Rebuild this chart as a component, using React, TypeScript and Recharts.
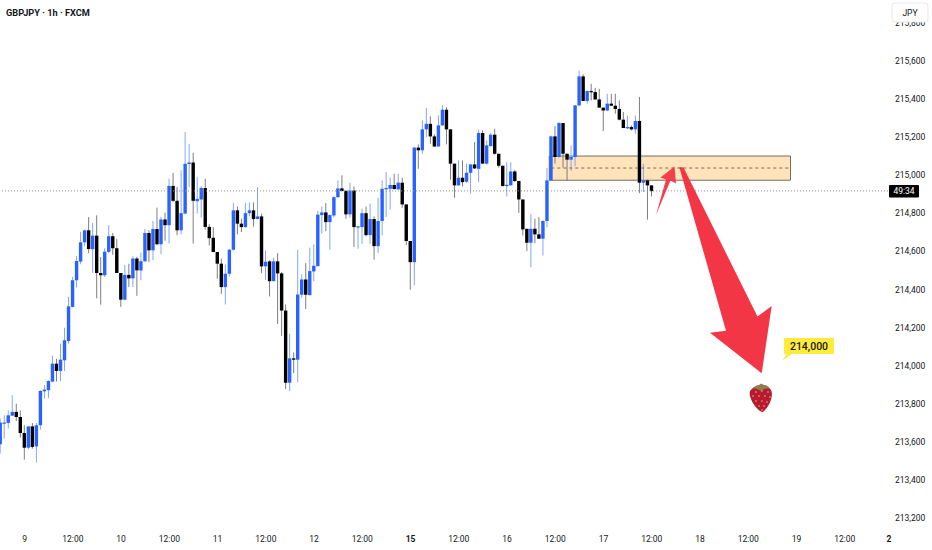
import { Bar, ComposedChart, ReferenceArea, ReferenceLine, XAxis, YAxis } from "recharts";

const opens = [
  213588, 213700, 213700, 213738, 213758, 213731, 213647, 213570, 213682, 213577,
  213688, 213866, 213872, 213917, 214011, 213973, 214029, 214130, 214309, 214449,
  214547, 214648, 214711, 214612, 214683, 214487, 214475, 214598, 214680, 214617,
  214487, 214347, 214477, 214459, 214563, 214500, 214549, 214697, 214606, 214718,
  214638, 214768, 214738, 214944, 214866, 214711, 214799, 215059, 215067, 214864,
  214873, 214933, 214729, 214672, 214597, 214536, 214413, 214483, 214609, 214816,
  214746, 214728, 214801, 214816, 214770, 214784, 214522, 214548, 214444, 214548,
  214485, 214290, 213911, 214039, 214032, 214373, 214453, 214371, 214495, 214523,
  214791, 214805, 214754, 214789, 214885, 214931, 214917, 214795, 214920, 214728,
  214728, 214801, 214686, 214770, 214628, 214760, 214928, 214929, 214949, 214926,
  214961, 214847, 214655, 214544, 215145, 215131, 215241, 215270, 215204, 215151,
  215262, 215344, 215241, 215061, 214947, 214987, 214966, 215013, 215057, 215034,
  215222, 215061, 215153, 215213, 215113, 215050, 214943, 214947, 215020, 214970,
  214873, 214719, 214646, 214719, 214690, 214667, 214760, 214973, 215204, 215096,
  215274, 215113, 215082, 215096, 215367, 215519, 215390, 215442, 215437, 215398,
  215355, 215340, 215376, 215365, 215348, 215292, 215246, 215253, 215241, 215285,
  214961, 214973, 214947,
];
const highs = [
  213723, 213740, 213766, 213845, 213801, 213766, 213688, 213682, 213700, 213700,
  213872, 213898, 213924, 214053, 214036, 214116, 214200, 214361, 214466, 214575,
  214703, 214715, 214781, 214750, 214790, 214571, 214617, 214738, 214697, 214666,
  214487, 214529, 214536, 214575, 214572, 214594, 214718, 214711, 214760, 214830,
  214782, 214804, 214982, 215012, 214939, 215026, 215227, 215165, 215118, 214990,
  214943, 214982, 214743, 214728, 214597, 214562, 214532, 214614, 214856, 214836,
  214772, 214856, 214857, 214857, 214938, 214798, 214606, 214553, 214567, 214591,
  214492, 214322, 214168, 214070, 214609, 214480, 214539, 214620, 214637, 214812,
  214836, 214854, 214795, 214889, 214973, 215000, 214924, 214962, 214941, 214732,
  214824, 214836, 214851, 214784, 214882, 214973, 215017, 214987, 215008, 215008,
  214987, 214847, 214655, 215148, 215162, 215288, 215354, 215309, 215215, 215314,
  215367, 215358, 215241, 215061, 215078, 215078, 215061, 215057, 215174, 215239,
  215236, 215183, 215222, 215244, 215113, 215050, 215069, 215069, 215029, 214970,
  214873, 214719, 214795, 214772, 214780, 214763, 215039, 215209, 215258, 215279,
  215274, 215113, 215157, 215367, 215550, 215530, 215445, 215480, 215459, 215454,
  215355, 215428, 215428, 215428, 215393, 215332, 215314, 215262, 215314, 215411,
  215061, 214977, 214947,
];
const lows = [
  213539, 213618, 213670, 213738, 213710, 213623, 213507, 213563, 213565, 213493,
  213665, 213828, 213830, 213914, 213917, 213919, 213973, 214116, 214306, 214410,
  214533, 214627, 214592, 214487, 214354, 214321, 214466, 214592, 214582, 214487,
  214309, 214344, 214414, 214414, 214367, 214449, 214544, 214545, 214554, 214633,
  214586, 214656, 214641, 214860, 214685, 214690, 214795, 214939, 214641, 214799,
  214778, 214715, 214631, 214597, 214457, 214378, 214322, 214469, 214605, 214690,
  214702, 214725, 214784, 214731, 214770, 214486, 214451, 214364, 214444, 214220,
  214157, 213878, 213867, 213962, 213914, 214357, 214298, 214369, 214444, 214523,
  214693, 214707, 214609, 214780, 214882, 214917, 214772, 214777, 214623, 214614,
  214640, 214679, 214640, 214557, 214592, 214684, 214781, 214819, 214924, 214924,
  214830, 214634, 214399, 214422, 215034, 215113, 215200, 215165, 215148, 215151,
  215258, 215162, 214977, 214882, 214947, 214941, 214959, 214903, 215033, 214964,
  215061, 215057, 215151, 215108, 215040, 214943, 214889, 214947, 214964, 214802,
  214684, 214602, 214518, 214644, 214667, 214579, 214728, 214970, 215061, 215092,
  215040, 214973, 215022, 215047, 215363, 215390, 215376, 215393, 215397, 215355,
  215232, 215337, 215365, 215323, 215288, 215248, 215244, 215235, 215218, 214906,
  214912, 214767, 214889,
];
const closes = [
  213702, 213702, 213740, 213758, 213731, 213647, 213570, 213682, 213574, 213688,
  213868, 213875, 213920, 214011, 213973, 214032, 214134, 214312, 214449, 214550,
  214648, 214711, 214613, 214683, 214487, 214475, 214599, 214680, 214617, 214487,
  214347, 214477, 214459, 214563, 214501, 214549, 214697, 214606, 214718, 214638,
  214768, 214738, 214944, 214866, 214711, 214801, 215060, 215067, 214866, 214876,
  214933, 214729, 214670, 214597, 214536, 214413, 214483, 214609, 214816, 214746,
  214728, 214801, 214816, 214770, 214784, 214522, 214546, 214444, 214548, 214485,
  214290, 213911, 214039, 214032, 214374, 214453, 214373, 214497, 214525, 214793,
  214805, 214754, 214791, 214885, 214931, 214917, 214795, 214920, 214728, 214732,
  214801, 214686, 214770, 214628, 214760, 214929, 214933, 214949, 214928, 214961,
  214847, 214655, 214544, 215145, 215131, 215241, 215270, 215204, 215151, 215262,
  215344, 215241, 215061, 214947, 214987, 214964, 215013, 215057, 215036, 215222,
  215061, 215157, 215213, 215113, 215050, 214943, 214950, 215020, 214970, 214873,
  214716, 214646, 214719, 214690, 214667, 214760, 214973, 215204, 215096, 215274,
  215113, 215082, 215096, 215367, 215519, 215390, 215442, 215437, 215398, 215355,
  215340, 215376, 215365, 215348, 215292, 215248, 215253, 215241, 215285, 214961,
  214973, 214947, 214917,
];

const SLOT_COUNT = 222;
const xTickSlots = [6, 30, 54, 78, 102, 126, 150, 174, 198];
const xNoonSlots = [18, 42, 66, 90, 114, 138, 162, 186, 210];
const xDayLabels = ["9", "10", "11", "12", "15", "16", "17", "18", "19"];
const lastSlot = 221;
const lastSlotLabel = "2";
const yTicks = [
  213200, 213400, 213600, 213800, 214000, 214200, 214400, 214600, 214800, 215000, 215200, 215400, 215600, 215800,
];
const lastPrice = 214918;
const zoneTop = 215101;
const zoneBottom = 214974;
const zoneMid = 215038;
const zoneStart = 137;
const zoneEnd = 196;

const FONT = 'Roboto, sans-serif';
const seeds = [
  [756, 392], [762, 391], [768, 392], [753, 396], [759, 396], [765, 396], [770, 397],
  [756, 401], [762, 401], [767, 402], [759, 406], [764, 406], [762, 410],
];

const rows = Array.from({ length: SLOT_COUNT }, (_, slot) =>
  slot < opens.length
    ? {
        slot,
        open: opens[slot],
        high: highs[slot],
        low: lows[slot],
        close: closes[slot],
        range: [lows[slot], highs[slot]],
      }
    : { slot },
);

const labelOfSlot = (slot: number) => {
  if (slot === lastSlot) return lastSlotLabel;
  const day = xTickSlots.indexOf(slot);
  return day >= 0 ? xDayLabels[day] : "12:00";
};

// turns the high-low range from the Bar into wick + body
function Candle(props: any) {
  const { x, y, width, height, payload } = props;
  if (payload.open === undefined) return null;
  const top = Math.min(y, y + height);
  const span = Math.abs(height);
  const toY = (v: number) => top + ((payload.high - v) / (payload.high - payload.low)) * span;
  const up = payload.close >= payload.open;
  const cx = x + width / 2;
  const bodyTop = toY(Math.max(payload.open, payload.close));
  const bodyH = Math.max(toY(Math.min(payload.open, payload.close)) - bodyTop, 1.2);
  return (
    <g>
      <line x1={cx} x2={cx} y1={top} y2={top + span} stroke={up ? "#82a6ff" : "#7d7d7d"} strokeWidth={1} />
      <rect x={x} y={bodyTop} width={width} height={bodyH} fill={up ? "#2962ff" : "#000000"} />
    </g>
  );
}

function XTick({ x, y, payload }: any) {
  const text = labelOfSlot(payload.value);
  const strong = text === "15" || text === "2";
  return (
    <text x={x} y={y} textAnchor="middle" dominantBaseline="central" fontFamily={FONT} fontSize={8.5} fontWeight={strong ? 700 : 400} fill="#131722">
      {text}
    </text>
  );
}

export default function App() {
  return (
    <div style={{ position: "absolute", left: 0, top: 0, width: 932, height: 550, background: "#fff", overflow: "hidden" }}>
      <ComposedChart
        width={932}
        height={550}
        data={rows}
        barCategoryGap={0}
        margin={{ top: 0, right: 0, bottom: 0, left: -1.5 }}
      >
        <XAxis
          dataKey="slot"
          type="category"
          ticks={[...xTickSlots, ...xNoonSlots, lastSlot]}
          interval={0}
          height={24}
          axisLine={false}
          tickLine={false}
          tickMargin={7}
          tick={<XTick />}
        />
        <YAxis
          orientation="right"
          width={41}
          domain={[213159, 215920]}
          ticks={yTicks}
          interval={0}
          axisLine={false}
          tickLine={false}
          tickSize={0}
          tickMargin={4}
          tickFormatter={(v: number) => v.toLocaleString("en-US")}
          tick={{ fontFamily: FONT, fontSize: 8.5, fill: "#131722" }}
        />
        <Bar dataKey="range" barSize={3.4} shape={<Candle />} isAnimationActive={false} />
        <ReferenceLine y={lastPrice} stroke="#8c8f98" strokeDasharray="1 2" />
        <ReferenceArea
          x1={zoneStart}
          x2={zoneEnd}
          y1={zoneBottom}
          y2={zoneTop}
          fill="#ffb74d"
          fillOpacity={0.38}
          stroke="#7a6d58"
          strokeWidth={1}
        />
        <ReferenceLine
          segment={[
            { x: zoneStart, y: zoneMid },
            { x: zoneEnd, y: zoneMid },
          ]}
          stroke="#7a6d58"
          strokeDasharray="3 3"
        />
      </ComposedChart>

      {/* drawings and labels that sit on top of the chart */}
      <svg width={932} height={550} style={{ position: "absolute", left: 0, top: 0, pointerEvents: "none" }}>
        <text x={6} y={15.5} fontFamily={FONT} fontSize={9.2} fontWeight={700} fill="#131722">
          GBPJPY · 1h · FXCM
        </text>

        <rect x={892} y={3} width={36} height={19} rx={3} fill="#fff" stroke="#e6e8ee" />
        <text x={910} y={15.5} textAnchor="middle" fontFamily={FONT} fontSize={8.5} fill="#131722">
          JPY
        </text>

        <rect x={889} y={185} width={30} height={12.5} rx={1} fill="#000" />
        <text x={904} y={194.3} textAnchor="middle" fontFamily={FONT} fontSize={8.5} fill="#fff">
          49:34
        </text>

        <polygon
          points="656,215 666,179.5 660.5,177.5 674.5,166.5 676,183.5 670.5,180.5"
          fill="#f23645"
          fillOpacity={0.95}
        />
        <polygon
          points="679.3,167 683.5,167.5 757.5,316.5 771.7,306 761.7,373.3 710,332.7 726,330.7"
          fill="#f23645"
        />

        <polygon points="787,353 793,353 782.5,360.5" fill="#ffeb3b" />
        <rect x={784} y={338} width={50} height={16} rx={1} fill="#ffeb3b" />
        <text x={809} y={349.8} textAnchor="middle" fontFamily={FONT} fontSize={10.5} fontWeight={500} fill="#131722">
          214,000
        </text>

        <path
          d="M753,388 C757,385 768,385 771,390 C774,396 769,407 763,412 C759,412 752,404 750,396 C749,392 750,390 753,388 Z"
          fill="#b71c2e"
        />
        <path
          d="M752,389 C755,386 756,385 759,385 L761,383.5 L764,385 C767,385 769,387 770,389 C766,388 764,389 761,391 C758,389 755,388 752,389 Z"
          fill="#8e7d4e"
        />
        {seeds.map(([cx, cy]) => (
          <circle key={`${cx}-${cy}`} cx={cx} cy={cy} r={0.7} fill="#f7c9c4" />
        ))}
      </svg>
    </div>
  );
}
